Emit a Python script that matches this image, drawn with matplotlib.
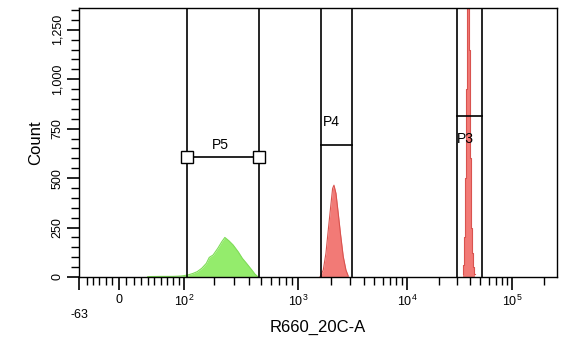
"""
Histograma de citometria (R660_20C-A) com eixo biexponencial e gates P3/P4/P5.
"""

import numpy as np
import matplotlib
matplotlib.use("Agg")
import matplotlib.pyplot as plt
from matplotlib.ticker import FixedLocator, NullFormatter, FuncFormatter

plt.rcParams["font.family"] = ["Liberation Sans", "DejaVu Sans"]
plt.rcParams["mathtext.fontset"] = "custom"
plt.rcParams["mathtext.rm"] = "Liberation Sans"
plt.rcParams["mathtext.it"] = "Liberation Sans"

# ---------------------------------------------------------------------------
# dados
# ---------------------------------------------------------------------------
verde_x = [40, 60, 80, 95, 110, 125, 138, 153, 169, 180, 195, 215, 233, 248,
           269, 292, 323, 350, 379, 420, 446, 474]
verde_n = [2, 3, 3, 5, 10, 18, 27, 44, 69, 99, 111, 145, 178, 200,
           183, 162, 127, 94, 69, 35, 14, 0]

p4_x = [1592, 1706, 1806, 1897, 1995, 2080, 2140, 2232, 2342, 2464, 2604,
        2757, 2893]
p4_n = [0, 35, 120, 237, 354, 448, 464, 423, 322, 212, 103, 35, 5]

p3_x = [33790, 34530, 35290, 36070, 36870, 37690, 38520, 39380, 40260,
        41150, 42060, 42990, 43950]
p3_n = [15, 60, 200, 500, 950, 1500, 1700, 1150, 600, 250, 120, 50, 15]

# gates: (nome, inicio, fim, altura da barra horizontal)
gates = [
    ("P5", 108, 483, 606),
    ("P4", 1626, 3125, 667),
    ("P3", 29900, 51800, 813),
]

x_ticks_maiores = [-63, 0, 100, 1000, 10000, 100000]
x_rotulos = ["", "0", "$10^2$", "$10^3$", "$10^4$", "$10^5$"]
y_ticks = [0, 250, 500, 750, 1000, 1250]

# ---------------------------------------------------------------------------
# escala biexponencial aproximada (interpolacao em arcsinh)
# ---------------------------------------------------------------------------
C = 100.0
NOS_V = np.array([-63, 0, 100, 1000, 1e4, 1e5, 262143])
NOS_P = np.array([79, 119, 184, 298, 407, 512, 557], dtype=float)
NOS_T = np.arcsinh(NOS_V / C)


def biex(x):
    t = np.arcsinh(np.asarray(x, dtype=float) / C)
    return np.interp(t, NOS_T, NOS_P)


def biex_inv(p):
    t = np.interp(np.asarray(p, dtype=float), NOS_P, NOS_T)
    return C * np.sinh(t)


def ticks_menores():
    m = list(range(-50, 0, 10)) + list(range(10, 100, 10))
    for dec in [100, 1000, 10000, 100000]:
        m += [k * dec for k in range(2, 10)]
    return [v for v in m if v <= 262143]


fig = plt.figure(figsize=(5.62, 3.41), dpi=100)
ax = fig.add_axes([79 / 562, 64 / 341, 478 / 562, 269 / 341])
ax.set_xscale("function", functions=(biex, biex_inv))
ax.set_xlim(-63, 262143)
ax.set_ylim(0, 1360)

verde = "#94ec6c"
vermelho = "#f27a76"

ax.fill_between(verde_x, verde_n, color=verde, lw=0, zorder=2)
ax.plot(verde_x, verde_n, color="#7fdc58", lw=0.8, zorder=2)
ax.fill_between(p4_x, p4_n, color=vermelho, lw=0, zorder=2)
ax.plot(p4_x, p4_n, color="#d9534f", lw=0.8, zorder=2)
ax.fill_between(p3_x, p3_n, step="mid", color=vermelho, lw=0, zorder=2)
ax.step(p3_x, p3_n, where="mid", color="#d9534f", lw=0.8, zorder=2)

for nome, x0, x1, h in gates:
    ax.axvline(x0, color="black", lw=1.2, zorder=3)
    ax.axvline(x1, color="black", lw=1.2, zorder=3)
    ax.plot([x0, x1], [h, h], color="black", lw=1.2, zorder=3)

# marcadores quadrados do P5 e rotulos
ax.plot([gates[0][1], gates[0][2]], [gates[0][3]] * 2, ls="none", marker="s",
        ms=8, mfc="white", mec="black", mew=1.0, zorder=4)
ax.text(np.sqrt(gates[0][1] * gates[0][2]), gates[0][3] + 25, "P5",
        ha="center", va="bottom", fontsize=10)
ax.text(gates[1][1] * 1.04, gates[1][3] + 80, "P4", ha="left", va="bottom",
        fontsize=10)
ax.text(gates[2][1] * 0.99, gates[2][3] - 150, "P3", ha="left", va="bottom",
        fontsize=10)

ax.xaxis.set_major_locator(FixedLocator(x_ticks_maiores))
ax.set_xticklabels(x_rotulos)
ax.xaxis.set_minor_locator(FixedLocator(ticks_menores()))
ax.xaxis.set_minor_formatter(NullFormatter())
ax.text(-63, -0.12, "-63", transform=ax.get_xaxis_transform(),
        ha="center", va="top", fontsize=9)

ax.yaxis.set_major_locator(FixedLocator(y_ticks))
ax.yaxis.set_minor_locator(FixedLocator(list(range(0, 1351, 50))))
ax.yaxis.set_major_formatter(FuncFormatter(lambda v, p: f"{int(v):,}"))
ax.tick_params(axis="y", which="major", length=9, width=1.2, labelsize=9,
               pad=2)
ax.tick_params(axis="y", which="minor", length=6, width=1.0)
ax.tick_params(axis="x", which="major", length=9, width=1.2, labelsize=9,
               pad=3)
ax.tick_params(axis="x", which="minor", length=6, width=1.0)
plt.setp(ax.get_yticklabels(), rotation=90, va="center")

for s in ax.spines.values():
    s.set_linewidth(1.0)

ax.set_xlabel("R660_20C-A", fontsize=12, labelpad=8)
ax.set_ylabel("Count", fontsize=12, labelpad=6)

fig.savefig("out.png", dpi=100)
